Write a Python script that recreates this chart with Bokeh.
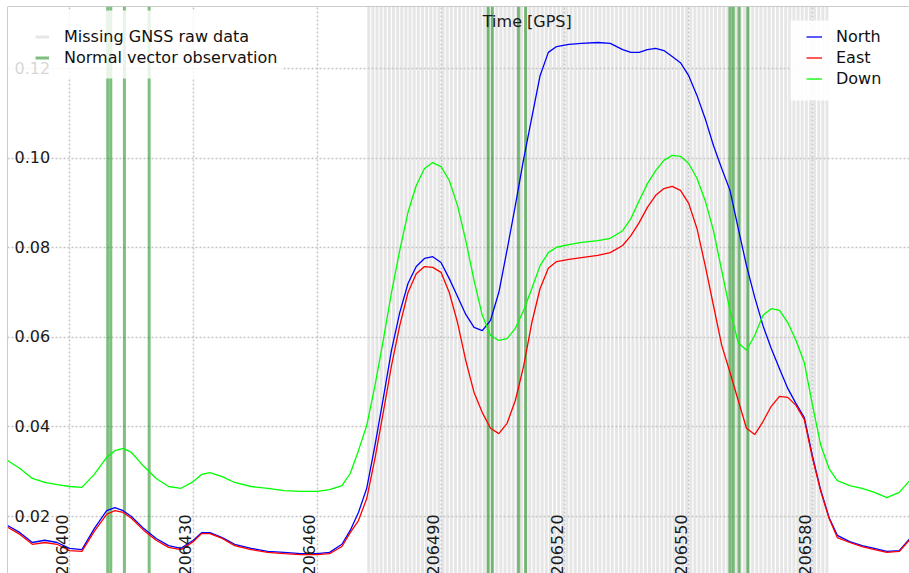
import math
from bokeh.plotting import figure
from bokeh.models import Range1d, Legend, LegendItem, FixedTicker, Span, Label, BoxAnnotation
from bokeh.core.properties import value
from bokeh.embed import file_html
from bokeh.resources import INLINE

# ---------------- data ----------------
TIME = [206385, 206388, 206391, 206394, 206397, 206400, 206403, 206406, 206409, 206411,
        206413, 206415, 206418, 206421, 206424, 206427, 206430, 206432, 206434, 206437,
        206440, 206444, 206448, 206452, 206456, 206460, 206463, 206466, 206468, 206470,
        206472, 206474, 206476, 206478, 206480, 206482, 206484, 206486, 206488, 206490,
        206492, 206494, 206496, 206498, 206500, 206502, 206504, 206506, 206508, 206510,
        206512, 206514, 206516, 206518, 206521, 206524, 206528, 206531, 206534, 206536,
        206538, 206540, 206542, 206544, 206546, 206548, 206550, 206552, 206554, 206556,
        206558, 206560, 206562, 206564, 206566, 206568, 206570, 206572, 206574, 206576,
        206578, 206580, 206582, 206584, 206586, 206589, 206592, 206595, 206598, 206601,
        206604]

NORTH = [0.0180, 0.0164, 0.0142, 0.0147, 0.0142, 0.0129, 0.0126, 0.0173, 0.0213, 0.0220,
         0.0213, 0.0200, 0.0173, 0.0151, 0.0135, 0.0129, 0.0147, 0.0164, 0.0164, 0.0153,
         0.0138, 0.0129, 0.0122, 0.0120, 0.0117, 0.0117, 0.0120, 0.0138, 0.0169, 0.0209,
         0.0263, 0.0359, 0.0463, 0.0571, 0.0655, 0.0720, 0.0758, 0.0776, 0.0780, 0.0767,
         0.0731, 0.0691, 0.0651, 0.0622, 0.0615, 0.0638, 0.0700, 0.0795, 0.0894, 0.0997,
         0.1091, 0.1184, 0.1236, 0.1249, 0.1254, 0.1256, 0.1258, 0.1256, 0.1242, 0.1236,
         0.1236, 0.1242, 0.1245, 0.1240, 0.1227, 0.1213, 0.1184, 0.1140, 0.1088, 0.1028,
         0.0977, 0.0928, 0.0843, 0.0760, 0.0689, 0.0626, 0.0575, 0.0530, 0.0486, 0.0452,
         0.0421, 0.0334, 0.0258, 0.0198, 0.0158, 0.0144, 0.0135, 0.0129, 0.0122, 0.0124,
         0.0155]

EAST = [0.0176, 0.0160, 0.0138, 0.0142, 0.0138, 0.0124, 0.0122, 0.0167, 0.0205, 0.0213,
        0.0209, 0.0196, 0.0169, 0.0147, 0.0131, 0.0126, 0.0144, 0.0162, 0.0162, 0.0151,
        0.0135, 0.0126, 0.0120, 0.0117, 0.0115, 0.0115, 0.0117, 0.0133, 0.0164, 0.0191,
        0.0240, 0.0330, 0.0432, 0.0537, 0.0626, 0.0700, 0.0742, 0.0758, 0.0756, 0.0745,
        0.0700, 0.0633, 0.0548, 0.0477, 0.0432, 0.0397, 0.0385, 0.0408, 0.0459, 0.0535,
        0.0633, 0.0709, 0.0754, 0.0769, 0.0774, 0.0778, 0.0783, 0.0789, 0.0805, 0.0827,
        0.0856, 0.0890, 0.0917, 0.0932, 0.0937, 0.0928, 0.0899, 0.0843, 0.0760, 0.0671,
        0.0582, 0.0522, 0.0459, 0.0397, 0.0383, 0.0412, 0.0446, 0.0468, 0.0466, 0.0448,
        0.0417, 0.0330, 0.0256, 0.0196, 0.0153, 0.0142, 0.0133, 0.0126, 0.0120, 0.0122,
        0.0153]

DOWN = [0.0325, 0.0307, 0.0285, 0.0276, 0.0271, 0.0267, 0.0265, 0.0294, 0.0332, 0.0347,
        0.0352, 0.0343, 0.0312, 0.0285, 0.0267, 0.0263, 0.0278, 0.0294, 0.0298, 0.0289,
        0.0276, 0.0267, 0.0263, 0.0258, 0.0256, 0.0256, 0.0260, 0.0269, 0.0296, 0.0347,
        0.0403, 0.0492, 0.0593, 0.0700, 0.0794, 0.0879, 0.0939, 0.0977, 0.0990, 0.0981,
        0.0950, 0.0894, 0.0816, 0.0727, 0.0649, 0.0604, 0.0593, 0.0597, 0.0620, 0.0660,
        0.0709, 0.0760, 0.0789, 0.0801, 0.0807, 0.0812, 0.0816, 0.0821, 0.0838, 0.0865,
        0.0905, 0.0943, 0.0972, 0.0995, 0.1006, 0.1004, 0.0988, 0.0955, 0.0905, 0.0838,
        0.0749, 0.0660, 0.0588, 0.0571, 0.0604, 0.0649, 0.0664, 0.0660, 0.0633, 0.0593,
        0.0544, 0.0448, 0.0359, 0.0307, 0.0280, 0.0269, 0.0263, 0.0254, 0.0242, 0.0254,
        0.0285]

MISSING_EPOCHS = [
    206472.5, 206473.5, 206474.5, 206475.5, 206476.5, 206477.5, 206478.5, 206479.5,
    206480.5, 206481.5, 206482.5, 206483.5, 206484.5, 206485.5, 206486.5, 206487.5,
    206488.5, 206489.5, 206490.5, 206491.5, 206492.5, 206493.5, 206494.5, 206495.5,
    206496.5, 206497.5, 206498.5, 206499.5, 206500.5, 206501.5, 206502.5, 206503.5,
    206504.5, 206505.5, 206506.5, 206507.5, 206508.5, 206509.5, 206510.5, 206511.5,
    206512.5, 206513.5, 206514.5, 206515.5, 206516.5, 206517.5, 206518.5, 206519.5,
    206520.5, 206521.5, 206522.5, 206523.5, 206524.5, 206525.5, 206526.5, 206527.5,
    206528.5, 206529.5, 206530.5, 206531.5, 206532.5, 206533.5, 206534.5, 206535.5,
    206536.5, 206537.5, 206538.5, 206539.5, 206540.5, 206541.5, 206542.5, 206543.5,
    206544.5, 206545.5, 206546.5, 206547.5, 206548.5, 206549.5, 206550.5, 206551.5,
    206552.5, 206553.5, 206554.5, 206555.5, 206556.5, 206557.5, 206558.5, 206559.5,
    206560.5, 206561.5, 206562.5, 206563.5, 206564.5, 206565.5, 206566.5, 206567.5,
    206568.5, 206569.5, 206570.5, 206571.5, 206572.5, 206573.5, 206574.5, 206575.5,
    206576.5, 206577.5, 206578.5, 206579.5, 206580.5, 206581.5, 206582.5, 206583.5]

NORMAL_VECTOR_EPOCHS = [206409.25, 206410.0, 206413.3, 206419.3, 206501.4, 206502.4,
                        206508.8, 206510.5, 206560.0, 206560.8, 206562.2, 206564.3]

X_TICKS = [206400, 206430, 206460, 206490, 206520, 206550, 206580]
X_TICK_LABELS = ["206400", "206430", "206460", "206490", "206520", "206550", "206580"]
Y_TICKS = [0.02, 0.04, 0.06, 0.08, 0.10, 0.12]
Y_TICK_LABELS = ["0.02", "0.04", "0.06", "0.08", "0.10", "0.12"]

# ---------------- view ----------------
X0, X1 = 206384.98, 206603.49
Y0, Y1 = 0.00728, 0.13384
FONT = "DejaVu Sans"
FS = "16px"

p = figure(width=909, height=573, x_range=Range1d(X0, X1), y_range=Range1d(Y0, Y1),
           output_backend="svg", toolbar_location=None,
           min_border_left=7, min_border_top=6, min_border_right=0, min_border_bottom=0,
           x_axis_location=None, y_axis_location=None)
p.outline_line_color = None
p.background_fill_color = "white"
p.border_fill_color = "white"

p.xgrid.ticker = FixedTicker(ticks=X_TICKS)
p.ygrid.ticker = FixedTicker(ticks=Y_TICKS)
for g in (p.xgrid, p.ygrid):
    g.grid_line_color = "#c4c4c4"
    g.grid_line_width = 1.5
    g.grid_line_dash = "2 2"

r_missing = p.segment(x0=MISSING_EPOCHS, y0=[Y0] * len(MISSING_EPOCHS),
                      x1=MISSING_EPOCHS, y1=[Y1] * len(MISSING_EPOCHS),
                      line_color="#c8c8c8", line_alpha=0.45, line_width=3)
r_normal = p.segment(x0=NORMAL_VECTOR_EPOCHS, y0=[Y0] * len(NORMAL_VECTOR_EPOCHS),
                     x1=NORMAL_VECTOR_EPOCHS, y1=[Y1] * len(NORMAL_VECTOR_EPOCHS),
                     line_color="#008000", line_alpha=0.5, line_width=3)

r_n = p.line(TIME, NORTH, line_color="#0000ff", line_width=1.3)
r_e = p.line(TIME, EAST, line_color="#ff0000", line_width=1.3)
r_d = p.line(TIME, DOWN, line_color="#00ff00", line_width=1.3)

# inner tick labels
p.text(x=X_TICKS, y=[Y0] * len(X_TICKS), text=X_TICK_LABELS, angle=math.pi / 2,
       text_align="left", text_baseline="alphabetic", x_offset=-8, y_offset=2,
       text_font=value(FONT), text_font_size=FS, text_color="#1a1a1a")
p.text(x=[X0] * len(Y_TICKS), y=Y_TICKS, text=Y_TICK_LABELS, x_offset=7, y_offset=-1,
       text_align="left", text_baseline="alphabetic",
       text_font=value(FONT), text_font_size=FS, text_color="#1a1a1a")

p.add_layout(Label(x=206510.9, y=0.13049, text="Time [GPS]", text_align="center",
                   text_baseline="middle", text_font=FONT, text_font_size=FS,
                   text_color="#1a1a1a"))

# semi-opaque legend panels
p.add_layout(BoxAnnotation(left=X0, right=206451.8, top=0.13295, bottom=0.11777,
                           fill_color="white", fill_alpha=0.82, line_color=None,
                           level="annotation"))
p.add_layout(BoxAnnotation(left=206574.7, right=X1, top=0.13072, bottom=0.11286,
                           fill_color="white", fill_alpha=0.92, line_color=None,
                           level="annotation"))

leg1 = Legend(items=[LegendItem(label="Missing GNSS raw data", renderers=[r_missing]),
                     LegendItem(label="Normal vector observation", renderers=[r_normal])],
              location=(28, 505.5), padding=10, spacing=0, margin=0,
              label_height=21, glyph_height=21, glyph_width=14, label_standoff=15,
              label_text_font=FONT, label_text_font_size=FS, label_text_color="#111111",
              background_fill_alpha=0.0, border_line_color=None)
leg2 = Legend(items=[LegendItem(label="North", renderers=[r_n]),
                     LegendItem(label="East", renderers=[r_e]),
                     LegendItem(label="Down", renderers=[r_d])],
              location=(799, 484.5), padding=10, spacing=0, margin=0,
              label_height=21, glyph_height=21, glyph_width=16, label_standoff=14,
              label_text_font=FONT, label_text_font_size=FS, label_text_color="#111111",
              background_fill_alpha=0.0, border_line_color=None)
p.add_layout(leg1, "center")
p.add_layout(leg2, "center")

p.add_layout(Span(location=X0, dimension="height", line_color="#9a9a9a", line_width=1))
p.add_layout(Span(location=Y1, dimension="width", line_color="#9a9a9a", line_width=1))

open("out.html", "w").write(file_html(p, INLINE))
